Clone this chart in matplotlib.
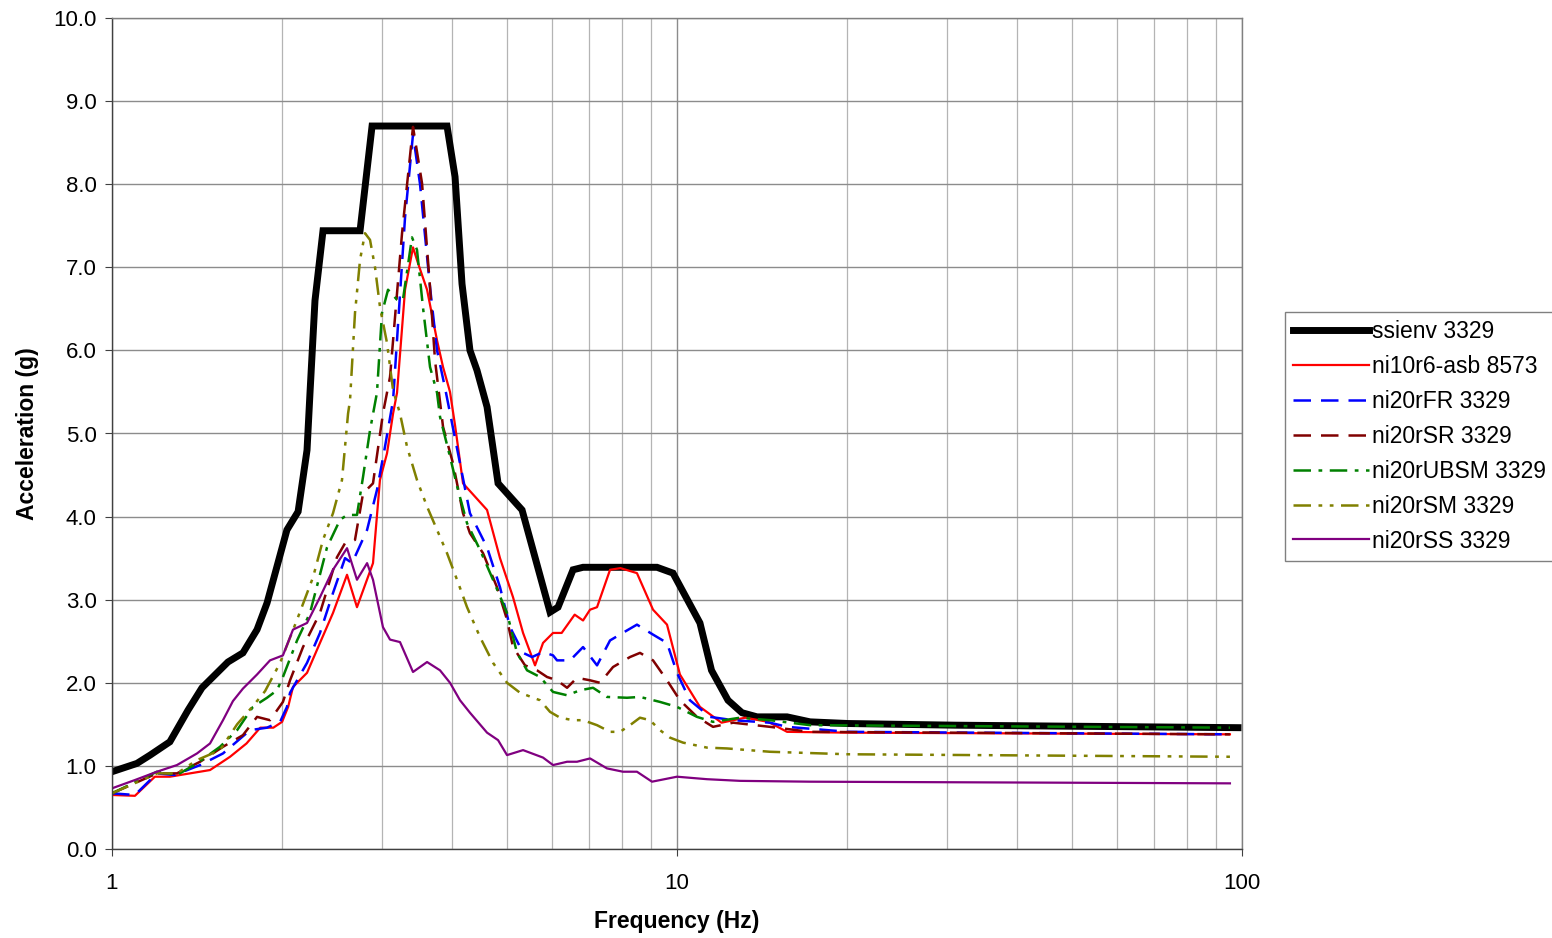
import matplotlib
matplotlib.use("Agg")
import matplotlib.pyplot as plt
from matplotlib.ticker import LogLocator, NullFormatter, FormatStrFormatter

plt.rcParams['font.family'] = ['Liberation Sans', 'DejaVu Sans']

# ssienv 3329 (envelope)
f_env = [1.0, 1.107, 1.168, 1.266, 1.363, 1.443, 1.604, 1.705, 1.806, 1.881, 2.04, 2.135,
         2.214, 2.241, 2.287, 2.363, 2.748, 2.886, 3.917, 4.047, 4.164, 4.301, 4.426, 4.611,
         4.823, 5.318, 5.961, 6.158, 6.547, 6.819, 9.217, 9.838, 10.98, 11.51, 12.31, 13.03,
         13.86, 15.66, 17.2, 20.08, 31.05, 98.4]
a_env = [0.93, 1.03, 1.13, 1.29, 1.67, 1.94, 2.25, 2.36, 2.64, 2.96, 3.84, 4.06,
         4.8, 5.49, 6.6, 7.44, 7.44, 8.7, 8.7, 8.09, 6.8, 6.0, 5.76, 5.32,
         4.4, 4.08, 2.85, 2.91, 3.36, 3.39, 3.39, 3.32, 2.72, 2.15, 1.79, 1.64,
         1.59, 1.59, 1.53, 1.51, 1.49, 1.46]

# ni10r6-asb 8573
f_asb = [1.0, 1.098, 1.191, 1.266, 1.491, 1.618, 1.73, 1.83, 1.93, 2.0, 2.05, 2.091,
         2.214, 2.334, 2.461, 2.606, 2.714, 2.897, 2.98, 3.067, 3.144, 3.195, 3.301, 3.41,
         3.48, 3.611, 3.761, 3.854, 3.965, 4.047, 4.181, 4.611, 4.861, 5.126, 5.34, 5.607,
         5.793, 6.034, 6.25, 6.59, 6.819, 7.016, 7.219, 7.612, 7.94, 8.494, 9.069, 9.601,
         10.12, 10.98, 11.99, 13.2, 14.5, 15.66, 20.08, 95.2]
a_asb = [0.65, 0.64, 0.87, 0.87, 0.95, 1.11, 1.27, 1.46, 1.46, 1.53, 1.71, 1.95,
         2.12, 2.48, 2.84, 3.30, 2.91, 3.44, 4.44, 4.76, 5.24, 5.49, 6.73, 7.24,
         7.05, 6.73, 6.12, 5.8, 5.5, 5.1, 4.4, 4.08, 3.5, 3.03, 2.6, 2.21,
         2.48, 2.6, 2.6, 2.82, 2.75, 2.88, 2.91, 3.36, 3.38, 3.32, 2.88, 2.7,
         2.1, 1.71, 1.52, 1.58, 1.53, 1.41, 1.40, 1.38]

# ni20rFR 3329
f_fr = [1.0, 1.098, 1.201, 1.29, 1.432, 1.572, 1.755, 1.881, 1.984, 2.04, 2.066, 2.214,
        2.334, 2.461, 2.585, 2.66, 2.828, 2.944, 3.042, 3.144, 3.301, 3.41, 3.509, 3.655,
        3.761, 3.885, 4.13, 4.301, 4.611, 4.861, 5.064, 5.34, 5.539, 5.793, 6.034, 6.133,
        6.467, 6.819, 7.219, 7.612, 8.155, 8.494, 9.069, 9.601, 10.0, 10.54, 11.44, 12.57,
        14.61, 15.66, 20.08, 95.2]
a_fr = [0.67, 0.65, 0.91, 0.89, 1.01, 1.15, 1.43, 1.46, 1.53, 1.71, 1.88, 2.24,
        2.6, 3.08, 3.5, 3.44, 3.84, 4.32, 4.84, 5.4, 7.6, 8.6, 8.0, 6.76,
        6.0, 5.55, 4.64, 4.04, 3.63, 3.15, 2.67, 2.36, 2.31, 2.37, 2.33, 2.27,
        2.27, 2.43, 2.21, 2.51, 2.63, 2.70, 2.58, 2.48, 2.12, 1.79, 1.59, 1.55,
        1.52, 1.47, 1.41, 1.38]

# ni20rSR 3329
f_sr = [1.0, 1.201, 1.303, 1.432, 1.572, 1.705, 1.806, 1.904, 2.007, 2.066, 2.178, 2.334,
        2.501, 2.585, 2.692, 2.782, 2.897, 3.017, 3.105, 3.261, 3.41, 3.538, 3.655, 3.73,
        3.854, 4.014, 4.181, 4.301, 4.536, 4.802, 5.002, 5.126, 5.383, 5.653, 5.888, 6.133,
        6.389, 6.653, 7.016, 7.308, 7.705, 8.256, 8.599, 9.069, 9.601, 10.12, 10.85, 11.58,
        12.57, 14.61, 17.2, 95.2]
a_sr = [0.67, 0.91, 0.91, 1.05, 1.23, 1.37, 1.59, 1.55, 1.77, 2.03, 2.43, 2.84,
        3.51, 3.68, 3.72, 4.28, 4.4, 5.24, 5.68, 7.41, 8.69, 8.01, 6.76, 5.88,
        5.08, 4.64, 4.04, 3.8, 3.56, 3.15, 2.76, 2.43, 2.21, 2.15, 2.07, 2.03,
        1.94, 2.06, 2.03, 2.0, 2.19, 2.31, 2.36, 2.27, 2.03, 1.79, 1.59, 1.47,
        1.52, 1.47, 1.41, 1.38]

# ni20rUBSM 3329
f_ubsm = [1.0, 1.201, 1.303, 1.414, 1.553, 1.665, 1.776, 1.881, 1.959, 2.007, 2.126, 2.241,
          2.402, 2.532, 2.606, 2.714, 2.782, 2.862, 2.944, 3.005, 3.08, 3.195, 3.273, 3.396,
          3.466, 3.551, 3.655, 3.761, 3.807, 3.965, 4.097, 4.25, 4.481, 4.725, 5.002, 5.21,
          5.428, 5.722, 6.034, 6.389, 6.736, 7.102, 7.517, 8.155, 8.599, 9.33, 10.0, 10.85,
          11.58, 12.93, 14.61, 17.2, 95.2]
a_ubsm = [0.67, 0.93, 0.89, 1.03, 1.23, 1.43, 1.71, 1.82, 1.91, 2.07, 2.51, 2.84,
          3.63, 3.96, 4.02, 4.02, 4.48, 5.04, 5.49, 6.45, 6.73, 6.61, 6.61, 7.36,
          7.21, 6.52, 5.8, 5.49, 5.2, 4.72, 4.32, 3.92, 3.6, 3.24, 2.84, 2.36,
          2.15, 2.07, 1.89, 1.85, 1.91, 1.94, 1.83, 1.82, 1.83, 1.77, 1.71, 1.59,
          1.53, 1.58, 1.55, 1.49, 1.46]

# ni20rSM 3329
f_sm = [1.0, 1.201, 1.303, 1.414, 1.553, 1.665, 1.776, 1.866, 1.984, 2.126, 2.269, 2.363,
        2.461, 2.553, 2.617, 2.638, 2.692, 2.748, 2.804, 2.862, 2.921, 2.981, 3.067, 3.144,
        3.234, 3.328, 3.466, 3.611, 3.761, 3.917, 4.08, 4.25, 4.481, 4.725, 5.002, 5.275,
        5.722, 5.961, 6.209, 6.547, 6.819, 7.219, 7.612, 7.929, 8.256, 8.599, 8.959, 9.33,
        9.719, 10.25, 11.3, 12.26, 14.61, 20.08, 95.2]
a_sm = [0.67, 0.91, 0.91, 1.07, 1.19, 1.50, 1.72, 1.90, 2.24, 2.76, 3.27, 3.72,
        4.04, 4.44, 5.24, 5.4, 6.45, 7.09, 7.41, 7.33, 7.0, 6.52, 6.09, 5.52,
        5.24, 4.84, 4.44, 4.12, 3.84, 3.56, 3.24, 2.91, 2.55, 2.24, 2.0, 1.88,
        1.79, 1.65, 1.58, 1.55, 1.55, 1.49, 1.41, 1.41, 1.49, 1.58, 1.55, 1.43,
        1.34, 1.28, 1.22, 1.21, 1.17, 1.14, 1.11]

# ni20rSS 3329
f_ss = [1.0, 1.098, 1.201, 1.303, 1.414, 1.491, 1.572, 1.637, 1.705, 1.806, 1.904, 2.007,
        2.091, 2.214, 2.334, 2.461, 2.606, 2.714, 2.828, 2.897, 3.017, 3.105, 3.234, 3.41,
        3.611, 3.807, 3.965, 4.13, 4.301, 4.611, 4.823, 5.002, 5.34, 5.793, 6.034, 6.389,
        6.653, 7.016, 7.517, 8.024, 8.494, 9.031, 10.0, 11.3, 12.93, 17.2, 95.2]
a_ss = [0.73, 0.83, 0.93, 1.01, 1.15, 1.27, 1.55, 1.78, 1.93, 2.10, 2.27, 2.33,
        2.64, 2.72, 3.03, 3.36, 3.62, 3.24, 3.44, 3.24, 2.67, 2.52, 2.49, 2.13,
        2.25, 2.15, 2.0, 1.79, 1.64, 1.40, 1.31, 1.13, 1.19, 1.10, 1.01, 1.05,
        1.05, 1.09, 0.97, 0.93, 0.93, 0.81, 0.87, 0.84, 0.82, 0.81, 0.79]

fig = plt.figure(figsize=(15.52, 9.38), dpi=100)
ax = fig.add_axes([112 / 1552, 89 / 938, 1130 / 1552, 831 / 938])

ax.plot(f_env, a_env, color='black', lw=5.0, solid_joinstyle='miter', label='ssienv 3329')
ax.plot(f_asb, a_asb, color='#ff0000', lw=1.6, label='ni10r6-asb 8573')
ax.plot(f_fr, a_fr, color='#0000ff', lw=1.8, linestyle=(0, (7, 4)), label='ni20rFR 3329')
ax.plot(f_sr, a_sr, color='#800000', lw=1.8, linestyle=(0, (7, 4)), label='ni20rSR 3329')
ax.plot(f_ubsm, a_ubsm, color='#008000', lw=1.8, linestyle=(0, (7, 3, 1.5, 3)), label='ni20rUBSM 3329')
ax.plot(f_sm, a_sm, color='#808000', lw=1.8, linestyle=(0, (7, 3, 1.5, 3, 1.5, 3)), label='ni20rSM 3329')
ax.plot(f_ss, a_ss, color='#800080', lw=1.6, label='ni20rSS 3329')

ax.set_xscale('log')
ax.set_xlim(1, 100)
ax.set_ylim(0, 10)
ax.set_xticks([1, 10, 100])
ax.set_xticklabels(['1', '10', '100'])
ax.xaxis.set_minor_locator(LogLocator(base=10, subs=range(2, 10)))
ax.xaxis.set_minor_formatter(NullFormatter())
ax.set_yticks(range(0, 11))
ax.yaxis.set_major_formatter(FormatStrFormatter('%.1f'))

ax.grid(True, which='major', color='#8c8c8c', lw=1.0)
ax.grid(True, which='minor', axis='x', color='#b4b4b4', lw=0.9)
ax.set_axisbelow(True)
for s in ax.spines.values():
    s.set_color('#808080')
    s.set_linewidth(1.0)
ax.spines['left'].set_color('#404040')
ax.spines['bottom'].set_color('#404040')

ax.tick_params(axis='both', which='major', labelsize=16, direction='out', length=5,
               color='#404040')
ax.tick_params(axis='x', which='major', pad=12)
ax.tick_params(axis='y', which='major', pad=6)
ax.tick_params(axis='x', which='minor', length=0)

ax.set_xlabel('Frequency (Hz)', fontsize=16.5, fontweight='bold', labelpad=12)
ax.set_ylabel('Acceleration (g)', fontsize=16.5, fontweight='bold', labelpad=10)

leg = fig.legend(loc='upper left', bbox_to_anchor=(1285 / 1552, 1 - 312 / 938),
                 bbox_transform=fig.transFigure, fontsize=16.5, frameon=True,
                 fancybox=False, edgecolor='#808080', framealpha=1,
                 handlelength=3.3, handletextpad=0.15, labelspacing=0.52,
                 borderpad=0.35, borderaxespad=0)
leg.get_frame().set_linewidth(1.0)

fig.savefig('out.png', dpi=100)
